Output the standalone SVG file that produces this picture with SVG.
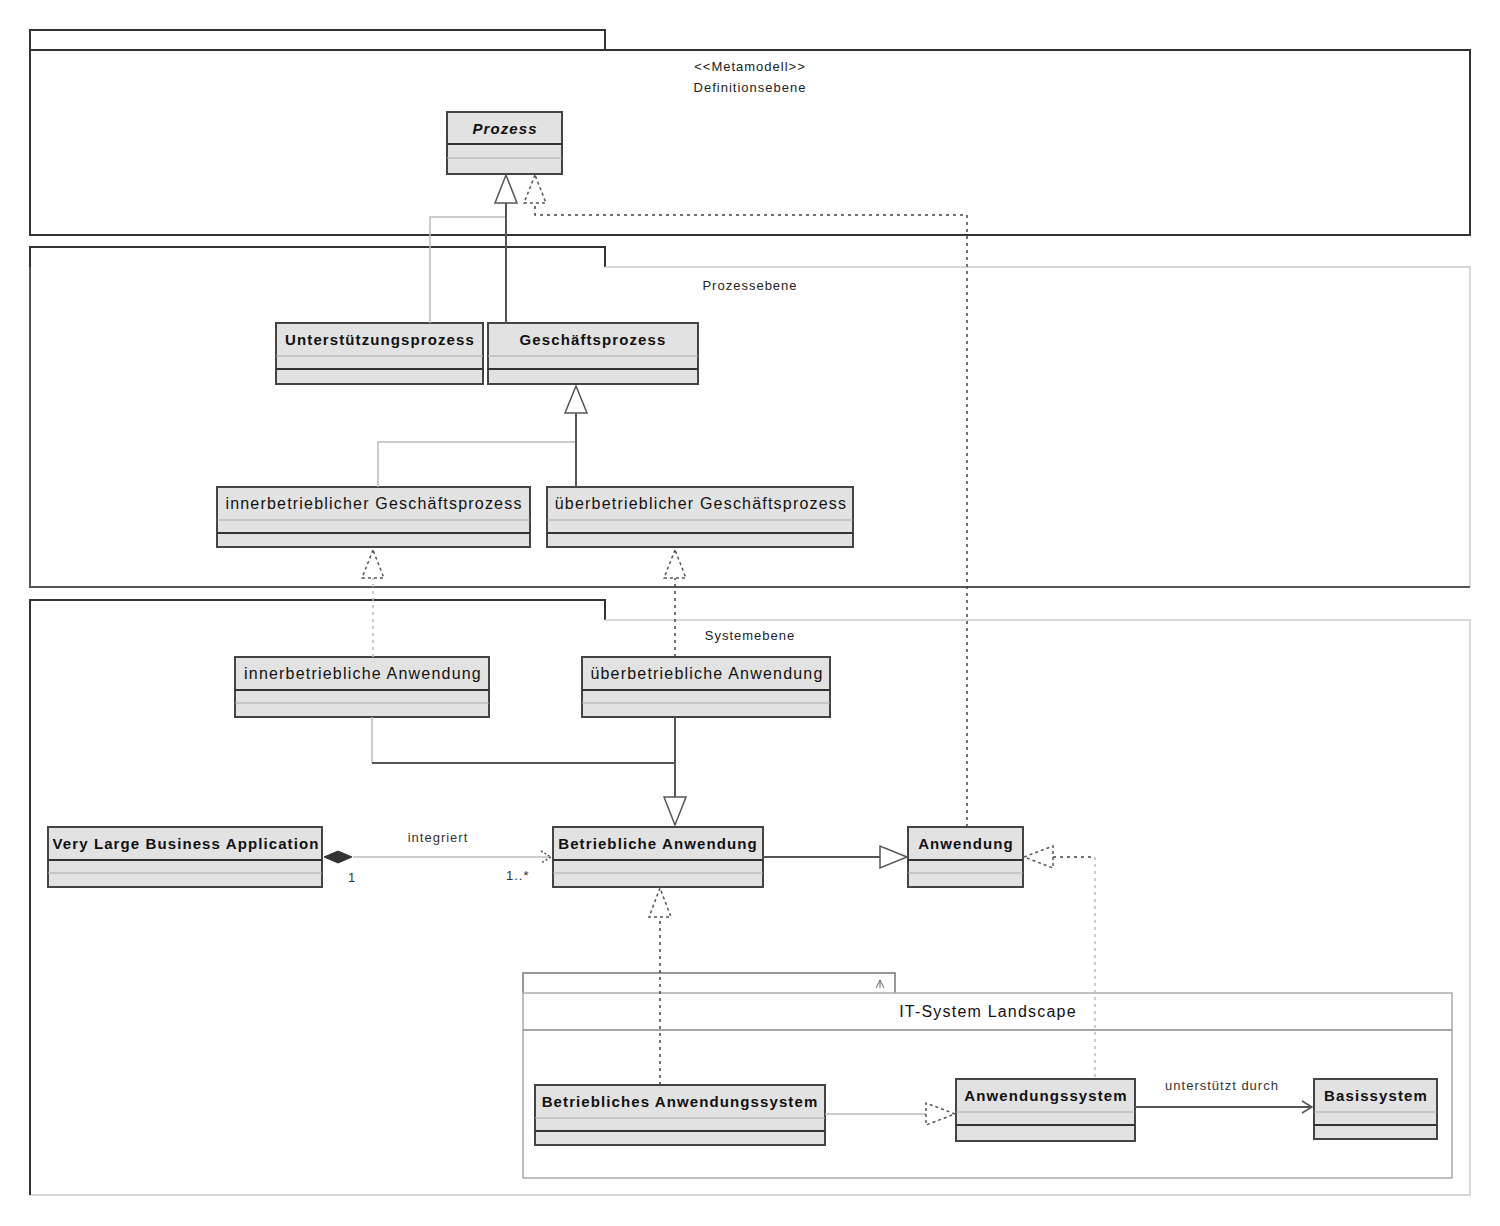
<svg xmlns="http://www.w3.org/2000/svg" width="1500" height="1226" viewBox="0 0 1500 1226">
<style>
.pkg{fill:#fff;stroke:#333;stroke-width:2}
.pkgl{fill:none;stroke:#ccc;stroke-width:1.5}
.box{fill:#e2e2e2;stroke:#444;stroke-width:2}
.sep{stroke:#aaa;stroke-width:1}
.sepd{stroke:#333;stroke-width:2}
.cn{font-family:"Liberation Sans",Arial,sans-serif;font-size:15px;font-weight:bold;letter-spacing:1.1px;text-anchor:middle;fill:#111}
.cr{font-family:"Liberation Sans",Arial,sans-serif;font-size:16px;letter-spacing:1.2px;text-anchor:middle;fill:#111}
.pl{font-family:"Liberation Sans",Arial,sans-serif;font-size:13px;letter-spacing:1px;text-anchor:middle;fill:#222}
.lb{font-family:"Liberation Sans",Arial,sans-serif;font-size:13px;letter-spacing:1px;fill:#333}
.solid{fill:none;stroke:#555;stroke-width:2}
.light{fill:none;stroke:#bbb;stroke-width:1.5}
.dash{fill:none;stroke:#444;stroke-width:1.5;stroke-dasharray:3 4}
.dashl{fill:none;stroke:#bbb;stroke-width:1.5;stroke-dasharray:3 4}
.tri{fill:#fff;stroke:#555;stroke-width:1.5}
.trid{fill:#fff;stroke:#555;stroke-width:1.5;stroke-dasharray:3 3}
</style>

<g id="pkg-definitionsebene">
<path class="pkg" d="M30,50 V30 H605 V50"/>
<rect class="pkg" x="30" y="50" width="1440" height="185"/>
<text class="pl" x="750" y="71">&lt;&lt;Metamodell&gt;&gt;</text>
<text class="pl" x="750" y="92">Definitionsebene</text>
</g>

<g id="pkg-prozessebene">
<path class="pkg" d="M30,267 V247 H605 V267"/>
<path class="pkgl" d="M605,267 H1470 V587"/>
<path d="M30,267 V587 H1470" fill="none" stroke="#555" stroke-width="2"/>
<text class="pl" x="750" y="290">Prozessebene</text>
</g>

<g id="pkg-systemebene">
<path class="pkg" d="M30,620 V600 H605 V620"/>
<path class="pkgl" d="M605,620 H1470 V1195 H30"/>
<path d="M30,620 V1195" fill="none" stroke="#333" stroke-width="2"/>
<text class="pl" x="750" y="640">Systemebene</text>
</g>

<g id="pkg-it-system-landscape">
<path d="M523,993 V973 H895 V993" fill="#fff" stroke="#777" stroke-width="1.5"/>
<path d="M880,988 V980 M880,980 L876,988 M880,980 L884,988" fill="none" stroke="#666" stroke-width="1"/>
<rect x="523" y="993" width="929" height="185" fill="none" stroke="#aaa" stroke-width="1.5"/>
<line x1="523" y1="1030" x2="1452" y2="1030" stroke="#888" stroke-width="1.5"/>
<text class="cr" x="988" y="1017">IT-System Landscape</text>
</g>

<g id="class-prozess">
<rect class="box" x="447" y="112" width="115" height="62"/>
<line class="sepd" x1="447" y1="144" x2="562" y2="144"/>
<line class="sep" x1="447" y1="158" x2="562" y2="158"/>
<text class="cn" x="505" y="134" font-style="italic">Prozess</text>
</g>

<g id="class-unterstuetzungsprozess">
<rect class="box" x="276" y="323" width="207" height="61"/>
<line class="sep" x1="276" y1="356" x2="483" y2="356"/>
<line class="sepd" x1="276" y1="369" x2="483" y2="369"/>
<text class="cn" x="380" y="345">Unterstützungsprozess</text>
</g>

<g id="class-geschaeftsprozess">
<rect class="box" x="488" y="323" width="210" height="61"/>
<line class="sep" x1="488" y1="356" x2="698" y2="356"/>
<line class="sepd" x1="488" y1="369" x2="698" y2="369"/>
<text class="cn" x="593" y="345">Geschäftsprozess</text>
</g>

<g id="class-innerbetrieblicher-gp">
<rect class="box" x="217" y="487" width="313" height="60"/>
<line class="sep" x1="217" y1="520" x2="530" y2="520"/>
<line class="sepd" x1="217" y1="533" x2="530" y2="533"/>
<text class="cr" x="374" y="509">innerbetrieblicher Geschäftsprozess</text>
</g>

<g id="class-ueberbetrieblicher-gp">
<rect class="box" x="547" y="487" width="306" height="60"/>
<line class="sep" x1="547" y1="520" x2="853" y2="520"/>
<line class="sepd" x1="547" y1="533" x2="853" y2="533"/>
<text class="cr" x="701" y="509">überbetrieblicher Geschäftsprozess</text>
</g>

<g id="class-innerbetriebliche-anwendung">
<rect class="box" x="235" y="657" width="254" height="60"/>
<line class="sepd" x1="235" y1="690" x2="489" y2="690"/>
<line class="sep" x1="235" y1="703" x2="489" y2="703"/>
<text class="cr" x="363" y="679">innerbetriebliche Anwendung</text>
</g>

<g id="class-ueberbetriebliche-anwendung">
<rect class="box" x="582" y="657" width="248" height="60"/>
<line class="sepd" x1="582" y1="690" x2="830" y2="690"/>
<line class="sep" x1="582" y1="703" x2="830" y2="703"/>
<text class="cr" x="707" y="679">überbetriebliche Anwendung</text>
</g>

<g id="class-vlba">
<rect class="box" x="48" y="827" width="274" height="60"/>
<line class="sepd" x1="48" y1="860" x2="322" y2="860"/>
<line class="sep" x1="48" y1="873" x2="322" y2="873"/>
<text class="cn" x="186" y="849">Very Large Business Application</text>
</g>

<g id="class-betriebliche-anwendung">
<rect class="box" x="553" y="827" width="210" height="60"/>
<line class="sepd" x1="553" y1="860" x2="763" y2="860"/>
<line class="sep" x1="553" y1="873" x2="763" y2="873"/>
<text class="cn" x="658" y="849">Betriebliche Anwendung</text>
</g>

<g id="class-anwendung">
<rect class="box" x="908" y="827" width="115" height="60"/>
<line class="sepd" x1="908" y1="860" x2="1023" y2="860"/>
<line class="sep" x1="908" y1="873" x2="1023" y2="873"/>
<text class="cn" x="966" y="849">Anwendung</text>
</g>

<g id="class-betriebliches-anwendungssystem">
<rect class="box" x="535" y="1085" width="290" height="60"/>
<line class="sep" x1="535" y1="1118" x2="825" y2="1118"/>
<line class="sepd" x1="535" y1="1131" x2="825" y2="1131"/>
<text class="cn" x="680" y="1107">Betriebliches Anwendungssystem</text>
</g>

<g id="class-anwendungssystem">
<rect class="box" x="956" y="1079" width="179" height="62"/>
<line class="sep" x1="956" y1="1112" x2="1135" y2="1112"/>
<line class="sepd" x1="956" y1="1125" x2="1135" y2="1125"/>
<text class="cn" x="1046" y="1101">Anwendungssystem</text>
</g>

<g id="class-basissystem">
<rect class="box" x="1314" y="1079" width="123" height="60"/>
<line class="sep" x1="1314" y1="1112" x2="1437" y2="1112"/>
<line class="sepd" x1="1314" y1="1125" x2="1437" y2="1125"/>
<text class="cn" x="1376" y="1101">Basissystem</text>
</g>

<g id="connectors">
<path class="light" d="M430,323 V217 H505"/>
<path class="solid" d="M506,323 V203"/>
<polygon class="tri" points="506,175 495,203 517,203"/>
<path class="dash" d="M967,827 V215 H535 V203"/>
<polygon class="trid" points="535,175 524,203 546,203"/>
<path class="light" d="M378,487 V442 H575"/>
<path class="solid" d="M576,487 V413"/>
<polygon class="tri" points="576,386 565,413 587,413"/>
<path class="dashl" d="M373,657 V578"/>
<polygon class="trid" points="373,550 362,578 384,578"/>
<path class="dash" d="M675,657 V578"/>
<polygon class="trid" points="675,550 664,578 686,578"/>
<path class="light" d="M372,717 V763"/>
<path class="solid" d="M372,763 H675"/>
<path class="solid" d="M675,717 V797"/>
<polygon class="tri" points="675,825 664,797 686,797"/>
<path class="light" d="M353,857 H551"/>
<polygon points="324,857 338,851 352,857 338,863" fill="#333" stroke="#333" stroke-width="1"/>
<path d="M541,851 L551,857 L541,863" fill="none" stroke="#555" stroke-width="1.5" stroke-dasharray="2 2"/>
<text class="lb" x="438" y="842" text-anchor="middle">integriert</text>
<text class="lb" x="348" y="882">1</text>
<text class="lb" x="506" y="880">1..*</text>
<path class="solid" d="M763,857 H880"/>
<polygon class="tri" points="907,857 880,846 880,868"/>
<path class="dash" d="M1053,857 H1095"/>
<path class="dashl" d="M1095,857 V1079"/>
<polygon class="trid" points="1024,857 1053,846 1053,868"/>
<path class="dash" d="M660,1085 V917"/>
<polygon class="trid" points="660,888 649,917 671,917"/>
<path class="light" d="M825,1114 H926"/>
<polygon class="trid" points="955,1114 926,1103 926,1125"/>
<path class="solid" d="M1135,1107 H1312"/>
<path d="M1302,1101 L1312,1107 L1302,1113" fill="none" stroke="#555" stroke-width="1.5"/>
<text class="lb" x="1222" y="1090" text-anchor="middle">unterstützt durch</text>
</g>
</svg>
